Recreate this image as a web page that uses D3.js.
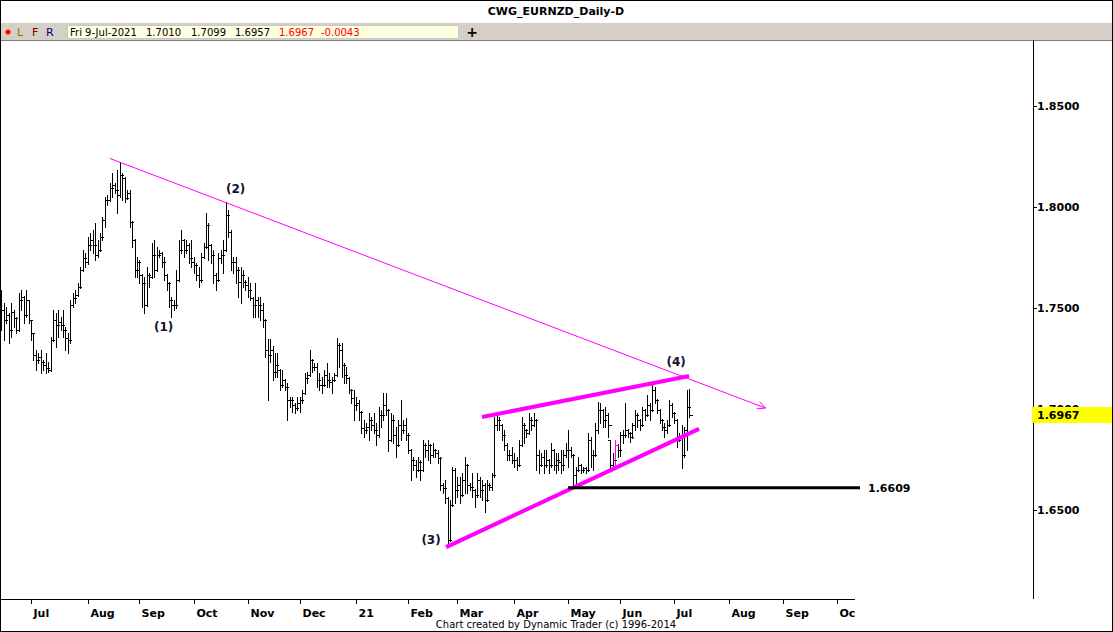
<!DOCTYPE html>
<html><head><meta charset="utf-8">
<script src="https://cdn.jsdelivr.net/npm/d3@7"></script>
<style>body{margin:0;background:#fff}svg{display:block}</style>
</head><body>
<svg id="c" width="1113" height="632"></svg>
<script>
// ---------------- DATA ----------------
const startDate = "2020-06-15";   // first daily bar (weekdays only)
const opens = [
1.7538,1.7489,1.7439,1.7464,1.7390,1.7479,1.7449,1.7390,1.7538,1.7553,
1.7464,1.7538,1.7439,1.7375,1.7266,1.7241,1.7256,1.7231,1.7216,1.7202,
1.7192,1.7340,1.7439,1.7415,1.7429,1.7415,1.7390,1.7350,1.7340,1.7513,
1.7548,1.7563,1.7603,1.7687,1.7746,1.7726,1.7810,1.7835,1.7810,1.7761,
1.7786,1.7850,1.7934,1.8033,1.8033,1.8093,1.8107,1.8083,1.8058,1.8157,
1.8142,1.8043,1.8068,1.7924,1.7835,1.7687,1.7726,1.7662,1.7622,1.7513,
1.7662,1.7652,1.7761,1.7687,1.7761,1.7771,1.7726,1.7662,1.7622,1.7538,
1.7513,1.7513,1.7637,1.7786,1.7835,1.7786,1.7810,1.7746,1.7726,1.7711,
1.7662,1.7637,1.7751,1.7801,1.7909,1.7810,1.7761,1.7662,1.7637,1.7746,
1.7761,1.7786,1.7959,1.7875,1.7726,1.7726,1.7687,1.7627,1.7662,1.7627,
1.7613,1.7588,1.7548,1.7513,1.7538,1.7513,1.7489,1.7439,1.7291,1.7266,
1.7291,1.7182,1.7216,1.7192,1.7117,1.7142,1.7108,1.7043,1.7043,1.7018,
1.7003,1.7028,1.7043,1.7078,1.7152,1.7167,1.7241,1.7206,1.7206,1.7142,
1.7117,1.7117,1.7167,1.7142,1.7132,1.7142,1.7167,1.7316,1.7291,1.7216,
1.7167,1.7152,1.7093,1.7053,1.7018,1.7028,1.6984,1.6905,1.6895,1.6910,
1.6944,1.6919,1.6895,1.6870,1.6969,1.6969,1.7018,1.6994,1.6845,1.6944,
1.6870,1.6820,1.6919,1.6895,1.6919,1.6870,1.6796,1.6746,1.6722,1.6697,
1.6736,1.6697,1.6820,1.6796,1.6820,1.6771,1.6796,1.6781,1.6756,1.6622,
1.6608,1.6558,1.6350,1.6523,1.6697,1.6598,1.6622,1.6573,1.6647,1.6722,
1.6622,1.6613,1.6598,1.6573,1.6647,1.6598,1.6622,1.6548,1.6622,1.6613,
1.6672,1.6919,1.6944,1.6919,1.6870,1.6820,1.6771,1.6771,1.6746,1.6746,
1.6722,1.6820,1.6919,1.6895,1.6880,1.6944,1.6919,1.6944,1.6771,1.6722,
1.6761,1.6722,1.6746,1.6722,1.6796,1.6722,1.6746,1.6736,1.6722,1.6771,
1.6796,1.6796,1.6771,1.6672,1.6697,1.6722,1.6697,1.6707,1.6697,1.6845,
1.6771,1.6771,1.6895,1.6994,1.6994,1.6944,1.6969,1.6845,1.6722,1.6746,
1.6820,1.6796,1.6870,1.6870,1.6895,1.6880,1.6860,1.6919,1.6969,1.6944,
1.6919,1.6994,1.6969,1.7018,1.6994,1.7093,1.7043,1.6994,1.6944,1.6910,
1.6895,1.6919,1.7018,1.6979,1.6944,1.6845,1.6860,1.6771,1.6895,1.7010];
const highs = [
1.7588,1.7523,1.7503,1.7474,1.7523,1.7489,1.7454,1.7573,1.7588,1.7558,
1.7588,1.7538,1.7439,1.7375,1.7291,1.7276,1.7291,1.7241,1.7276,1.7231,
1.7355,1.7489,1.7474,1.7489,1.7454,1.7489,1.7405,1.7375,1.7538,1.7573,
1.7588,1.7622,1.7701,1.7786,1.7771,1.7850,1.7870,1.7885,1.7919,1.7835,
1.7870,1.7949,1.8048,1.8058,1.8117,1.8167,1.8117,1.8182,1.8221,1.8167,
1.8147,1.8083,1.8083,1.7929,1.7840,1.7751,1.7736,1.7667,1.7652,1.7701,
1.7672,1.7820,1.7835,1.7801,1.7786,1.7776,1.7751,1.7667,1.7627,1.7553,
1.7538,1.7687,1.7835,1.7885,1.7840,1.7835,1.7820,1.7835,1.7751,1.7721,
1.7701,1.7771,1.7820,1.7968,1.7919,1.7815,1.7786,1.7672,1.7771,1.7786,
1.7835,1.8023,1.7984,1.7885,1.7751,1.7751,1.7701,1.7701,1.7687,1.7637,
1.7652,1.7622,1.7553,1.7622,1.7553,1.7553,1.7523,1.7444,1.7345,1.7345,
1.7310,1.7276,1.7276,1.7197,1.7192,1.7147,1.7127,1.7058,1.7058,1.7028,
1.7058,1.7058,1.7093,1.7177,1.7182,1.7291,1.7246,1.7226,1.7226,1.7177,
1.7157,1.7192,1.7226,1.7177,1.7157,1.7177,1.7350,1.7325,1.7325,1.7226,
1.7206,1.7157,1.7098,1.7093,1.7058,1.7043,1.6989,1.6944,1.6929,1.6979,
1.6959,1.6979,1.6929,1.7008,1.6994,1.7078,1.7078,1.6999,1.6979,1.6969,
1.6910,1.6944,1.7043,1.6944,1.6954,1.6880,1.6801,1.6761,1.6746,1.6761,
1.6746,1.6845,1.6830,1.6845,1.6825,1.6830,1.6801,1.6796,1.6761,1.6632,
1.6647,1.6563,1.6548,1.6711,1.6707,1.6662,1.6662,1.6682,1.6761,1.6727,
1.6632,1.6682,1.6603,1.6682,1.6662,1.6647,1.6632,1.6647,1.6632,1.6682,
1.6959,1.6979,1.6959,1.6924,1.6895,1.6830,1.6796,1.6811,1.6781,1.6761,
1.6845,1.6959,1.6929,1.6900,1.6979,1.6959,1.6979,1.6949,1.6796,1.6781,
1.6796,1.6796,1.6751,1.6830,1.6801,1.6781,1.6781,1.6796,1.6796,1.6830,
1.6895,1.6811,1.6776,1.6711,1.6761,1.6727,1.6711,1.6711,1.6880,1.6860,
1.6796,1.6929,1.7033,1.7028,1.6999,1.7008,1.6979,1.6845,1.6781,1.6845,
1.6825,1.6885,1.6895,1.7028,1.6900,1.6885,1.6929,1.6994,1.6979,1.6949,
1.7008,1.6999,1.7068,1.7028,1.7127,1.7108,1.7048,1.6999,1.6949,1.6929,
1.6944,1.7043,1.7028,1.6984,1.6949,1.6880,1.6919,1.6910,1.7093,1.7099];
const lows = [
1.7390,1.7340,1.7424,1.7325,1.7355,1.7405,1.7375,1.7385,1.7489,1.7424,
1.7454,1.7424,1.7340,1.7241,1.7192,1.7226,1.7177,1.7192,1.7177,1.7182,
1.7187,1.7335,1.7305,1.7355,1.7390,1.7355,1.7291,1.7276,1.7325,1.7503,
1.7523,1.7558,1.7598,1.7682,1.7701,1.7716,1.7786,1.7771,1.7736,1.7751,
1.7781,1.7835,1.7899,1.8008,1.8028,1.8048,1.8068,1.7969,1.8048,1.8033,
1.8023,1.8038,1.7899,1.7801,1.7652,1.7652,1.7622,1.7503,1.7474,1.7508,
1.7603,1.7647,1.7652,1.7682,1.7751,1.7701,1.7637,1.7588,1.7503,1.7454,
1.7489,1.7500,1.7632,1.7771,1.7751,1.7771,1.7721,1.7701,1.7672,1.7637,
1.7603,1.7627,1.7746,1.7796,1.7736,1.7721,1.7622,1.7588,1.7632,1.7721,
1.7672,1.7781,1.7850,1.7687,1.7672,1.7622,1.7553,1.7523,1.7603,1.7588,
1.7553,1.7538,1.7454,1.7454,1.7454,1.7439,1.7405,1.7256,1.7043,1.7231,
1.7142,1.7157,1.7157,1.7093,1.7108,1.7093,1.6944,1.7008,1.6984,1.6979,
1.6994,1.6984,1.7028,1.7073,1.7127,1.7162,1.7182,1.7192,1.7108,1.7093,
1.7078,1.7112,1.7108,1.7108,1.7078,1.7137,1.7162,1.7206,1.7157,1.7127,
1.7127,1.7078,1.7028,1.6944,1.6994,1.6944,1.6880,1.6860,1.6880,1.6845,
1.6895,1.6880,1.6820,1.6860,1.6910,1.6944,1.6969,1.6791,1.6840,1.6830,
1.6761,1.6815,1.6845,1.6880,1.6845,1.6781,1.6647,1.6697,1.6662,1.6692,
1.6647,1.6692,1.6761,1.6746,1.6731,1.6761,1.6761,1.6731,1.6598,1.6583,
1.6533,1.6325,1.6345,1.6518,1.6533,1.6563,1.6533,1.6568,1.6583,1.6583,
1.6598,1.6563,1.6513,1.6563,1.6563,1.6548,1.6489,1.6543,1.6598,1.6598,
1.6662,1.6895,1.6895,1.6845,1.6796,1.6746,1.6746,1.6731,1.6711,1.6697,
1.6717,1.6815,1.6830,1.6860,1.6875,1.6895,1.6914,1.6697,1.6682,1.6717,
1.6682,1.6711,1.6682,1.6711,1.6697,1.6682,1.6697,1.6682,1.6697,1.6761,
1.6711,1.6761,1.6609,1.6632,1.6692,1.6682,1.6687,1.6682,1.6692,1.6711,
1.6697,1.6766,1.6880,1.6929,1.6910,1.6910,1.6860,1.6697,1.6697,1.6707,
1.6761,1.6766,1.6830,1.6860,1.6860,1.6835,1.6855,1.6895,1.6910,1.6895,
1.6914,1.6944,1.6964,1.6944,1.6989,1.7028,1.6979,1.6929,1.6895,1.6860,
1.6880,1.6914,1.6959,1.6929,1.6811,1.6840,1.6707,1.6761,1.6796,1.6957];
const closes = [
1.7489,1.7439,1.7464,1.7390,1.7479,1.7449,1.7390,1.7538,1.7553,1.7464,
1.7538,1.7439,1.7375,1.7266,1.7241,1.7256,1.7231,1.7216,1.7202,1.7192,
1.7340,1.7439,1.7415,1.7429,1.7415,1.7390,1.7350,1.7340,1.7513,1.7548,
1.7563,1.7603,1.7687,1.7746,1.7726,1.7810,1.7835,1.7810,1.7761,1.7786,
1.7850,1.7934,1.8033,1.8033,1.8093,1.8107,1.8083,1.8058,1.8157,1.8142,
1.8043,1.8068,1.7924,1.7835,1.7687,1.7726,1.7662,1.7622,1.7513,1.7662,
1.7652,1.7761,1.7687,1.7761,1.7771,1.7726,1.7662,1.7622,1.7538,1.7513,
1.7513,1.7637,1.7786,1.7835,1.7786,1.7810,1.7746,1.7726,1.7711,1.7662,
1.7637,1.7751,1.7801,1.7909,1.7810,1.7761,1.7662,1.7637,1.7746,1.7761,
1.7786,1.7959,1.7875,1.7726,1.7726,1.7687,1.7627,1.7662,1.7627,1.7613,
1.7588,1.7548,1.7513,1.7538,1.7513,1.7489,1.7439,1.7291,1.7266,1.7291,
1.7182,1.7216,1.7192,1.7117,1.7142,1.7108,1.7043,1.7043,1.7018,1.7003,
1.7028,1.7043,1.7078,1.7152,1.7167,1.7241,1.7206,1.7206,1.7142,1.7117,
1.7117,1.7167,1.7142,1.7132,1.7142,1.7167,1.7316,1.7291,1.7216,1.7167,
1.7152,1.7093,1.7053,1.7018,1.7028,1.6984,1.6905,1.6895,1.6910,1.6944,
1.6919,1.6895,1.6870,1.6969,1.6969,1.7018,1.6994,1.6845,1.6944,1.6870,
1.6820,1.6919,1.6895,1.6919,1.6870,1.6796,1.6746,1.6722,1.6697,1.6736,
1.6697,1.6820,1.6796,1.6820,1.6771,1.6796,1.6781,1.6756,1.6622,1.6608,
1.6558,1.6350,1.6523,1.6697,1.6598,1.6622,1.6573,1.6647,1.6722,1.6622,
1.6613,1.6598,1.6573,1.6647,1.6598,1.6622,1.6548,1.6622,1.6613,1.6672,
1.6919,1.6944,1.6919,1.6870,1.6820,1.6771,1.6771,1.6746,1.6746,1.6722,
1.6820,1.6919,1.6895,1.6880,1.6944,1.6919,1.6944,1.6771,1.6722,1.6761,
1.6722,1.6746,1.6722,1.6796,1.6722,1.6746,1.6736,1.6722,1.6771,1.6796,
1.6796,1.6771,1.6672,1.6697,1.6722,1.6697,1.6707,1.6697,1.6845,1.6771,
1.6771,1.6895,1.6994,1.6994,1.6944,1.6969,1.6919,1.6722,1.6746,1.6820,
1.6796,1.6870,1.6870,1.6895,1.6880,1.6860,1.6919,1.6969,1.6944,1.6919,
1.6994,1.6969,1.7018,1.6994,1.7093,1.7043,1.6994,1.6944,1.6910,1.6895,
1.6919,1.7018,1.6979,1.6944,1.6845,1.6860,1.6771,1.6895,1.7010,1.6967];

const monthTickDates  = ["2020-07-01","2020-08-03","2020-09-01","2020-10-01","2020-11-02","2020-12-01","2021-01-01","2021-02-01","2021-03-01","2021-04-01","2021-05-03","2021-06-01","2021-07-01","2021-08-02","2021-09-01","2021-10-01"];
const monthTickLabels = ["Jul","Aug","Sep","Oct","Nov","Dec","21","Feb","Mar","Apr","May","Jun","Jul","Aug","Sep","Oct"];
const priceTicks = [1.65, 1.70, 1.75, 1.80, 1.85];
const lastPrice = 1.6967;
const supportLevel = 1.6609;
const highlightBar = 249;                       // magenta bar
const trendLine  = [[44, 1.8239], [310, 1.7003]];   // [bar index, price]
const upperWedge = [[195, 1.6959], [279, 1.7162]];
const lowerWedge = [[180.4, 1.6315], [283, 1.6900]];
const supportSpan = [229.9, 348.3];
const waveLabels = ["(1)", "(2)", "(3)", "(4)"];
const waveAt     = [[65.8, 1.7404], [95.0, 1.8088], [174.3, 1.6350], [273.7, 1.7231]];
const headerInfo = ["Fri 9-Jul-2021", "1.7010", "1.7099", "1.6957", "1.6967", "-0.0043"];

// ---------------- CHART ----------------
const n = closes.length;
if (opens.length!==n || highs.length!==n || lows.length!==n) throw new Error("length mismatch "+[opens.length,highs.length,lows.length,n]);

const W = 1113, H = 632;
const plot = {left: 1, right: 1033, top: 41, bottom: 599};
const svg = d3.select("#c");
const SANS = "'DejaVu Sans', Verdana, sans-serif";

// weekday calendar
const parse = d3.utcParse("%Y-%m-%d");
const t0 = parse(startDate);
function weekdayIndex(ds) {
  const d = parse(ds); let c = 0;
  for (let t = new Date(t0); t < d; t = d3.utcDay.offset(t, 1)) { const w = t.getUTCDay(); if (w !== 0 && w !== 6) c++; }
  return c;
}

const x = d3.scaleLinear().domain([0, 418.5]).range([1.4, 1033]);
const y = d3.scaleLinear().domain([1.65, 1.85]).range([509.7, 105.7]);

svg.append("rect").attr("width", W).attr("height", H).attr("fill", "#fff");

const defs = svg.append("defs");
defs.append("clipPath").attr("id", "plotClip").append("rect")
  .attr("x", plot.left).attr("y", plot.top).attr("width", plot.right - plot.left).attr("height", plot.bottom - plot.top);
defs.append("clipPath").attr("id", "xClip").append("rect")
  .attr("x", 0).attr("y", 595).attr("width", 855).attr("height", 30);

// header
svg.append("text").attr("x", 556).attr("y", 15).attr("text-anchor", "middle")
  .attr("font-family", SANS).attr("font-weight", "bold").attr("font-size", 11).attr("fill", "#000")
  .text("CWG_EURNZD_Daily-D");
svg.append("rect").attr("x", 1).attr("y", 23).attr("width", W - 2).attr("height", 17).attr("fill", "#d4d0c8");
svg.append("line").attr("x1", 0).attr("x2", W).attr("y1", 40.5).attr("y2", 40.5).attr("stroke", "#808080");
svg.append("circle").attr("cx", 8).attr("cy", 32).attr("r", 2.5).attr("fill", "#ff0000");
[["L", 17, "#808000"], ["F", 32, "#800000"], ["R", 46, "#000080"]].forEach(([t, px, c]) =>
  svg.append("text").attr("x", px).attr("y", 36).attr("font-family", SANS).attr("font-size", 11).attr("fill", c).text(t));
svg.append("rect").attr("x", 67.5).attr("y", 25.5).attr("width", 391).attr("height", 13)
  .attr("fill", "#ffffe1").attr("stroke", "#c8c8c8");
const infoX = [70, 146, 191, 235, 279, 321];
headerInfo.forEach((t, k) =>
  svg.append("text").attr("x", infoX[k]).attr("y", 36).attr("font-family", SANS).attr("font-size", 10)
    .attr("fill", k >= 4 ? "#ff0000" : "#000").text(t));
svg.append("text").attr("x", 472).attr("y", 37).attr("text-anchor", "middle").attr("font-family", SANS)
  .attr("font-weight", "bold").attr("font-size", 14).text("+");

// bars
const barG = svg.append("g").attr("clip-path", "url(#plotClip)");
const barData = d3.range(n).map(i => ({i, o: opens[i], h: highs[i], l: lows[i], c: closes[i]}));
const bg = barData.map(d => {
  const cx = Math.round(x(d.i)), yh = Math.round(y(d.h)), yl = Math.round(y(d.l));
  return {cx, yh, yl, yo: Math.round(y(d.o)), yc: Math.round(y(d.c)), col: d.i === highlightBar ? "#ff00ff" : "#000"};
});
barG.selectAll("rect.v").data(bg).join("rect").attr("class", "v")
  .attr("x", d => d.cx).attr("y", d => d.yh).attr("width", 1).attr("height", d => Math.max(1, d.yl - d.yh + 1)).attr("fill", d => d.col);
barG.selectAll("rect.o").data(bg).join("rect").attr("class", "o")
  .attr("x", d => d.cx - 2).attr("y", d => d.yo).attr("width", 2).attr("height", 1).attr("fill", d => d.col);
barG.selectAll("rect.c").data(bg).join("rect").attr("class", "c")
  .attr("x", d => d.cx + 1).attr("y", d => d.yc).attr("width", 3).attr("height", 1).attr("fill", d => d.col);

// annotation lines
const ann = svg.append("g").attr("clip-path", "url(#plotClip)");
function seg(pts, color, w) {
  ann.append("line").attr("x1", x(pts[0][0])).attr("y1", y(pts[0][1])).attr("x2", x(pts[1][0])).attr("y2", y(pts[1][1]))
    .attr("stroke", color).attr("stroke-width", w);
}
seg(trendLine, "#ff00ff", 1);
{ // arrow head
  const x1 = x(trendLine[0][0]), y1 = y(trendLine[0][1]), x2 = x(trendLine[1][0]), y2 = y(trendLine[1][1]);
  const a = Math.atan2(y2 - y1, x2 - x1), L = 9, s = 0.45;
  ann.append("path").attr("d", `M${x2 - L*Math.cos(a - s)},${y2 - L*Math.sin(a - s)}L${x2},${y2}L${x2 - L*Math.cos(a + s)},${y2 - L*Math.sin(a + s)}`)
    .attr("fill", "none").attr("stroke", "#ff00ff").attr("stroke-width", 1);
}
seg(upperWedge, "#ff00ff", 4);
seg(lowerWedge, "#ff00ff", 4);
seg([[supportSpan[0], supportLevel], [supportSpan[1], supportLevel]], "#000", 3);
svg.append("text").attr("x", 868).attr("y", y(supportLevel)).attr("dy", "0.36em")
  .attr("font-family", SANS).attr("font-weight", "bold").attr("font-size", 11).text(supportLevel.toFixed(4));

// wave labels
waveLabels.forEach((t, k) =>
  svg.append("text").attr("x", x(waveAt[k][0])).attr("y", y(waveAt[k][1])).attr("dy", "0.36em").attr("text-anchor", "middle")
    .attr("font-family", SANS).attr("font-weight", "bold").attr("font-size", 12).attr("fill", "#101030").text(t));

// right axis
svg.append("line").attr("x1", 1033.5).attr("x2", 1033.5).attr("y1", 40).attr("y2", 599).attr("stroke", "#000");
const yAxisG = svg.append("g");
priceTicks.forEach(p => {
  const yy = Math.round(y(p)) + 0.5;
  yAxisG.append("line").attr("x1", 1033).attr("x2", 1037).attr("y1", yy).attr("y2", yy).attr("stroke", "#000");
  yAxisG.append("text").attr("x", 1037).attr("y", yy).attr("dy", "0.36em").attr("font-family", SANS)
    .attr("font-weight", "bold").attr("font-size", 11).attr("fill", "#000").text(p.toFixed(4));
});
svg.append("rect").attr("x", 1032).attr("y", Math.round(y(lastPrice)) - 8).attr("width", 80).attr("height", 16).attr("fill", "#ffff00");
svg.append("text").attr("x", 1037).attr("y", Math.round(y(lastPrice))).attr("dy", "0.36em").attr("font-family", SANS)
  .attr("font-weight", "bold").attr("font-size", 11).text(lastPrice.toFixed(4));

// bottom axis
svg.append("line").attr("x1", 0).attr("x2", 855).attr("y1", 599.5).attr("y2", 599.5).attr("stroke", "#000");
const xg = svg.append("g").attr("clip-path", "url(#xClip)");
monthTickDates.forEach((ds, k) => {
  const xx = Math.round(x(weekdayIndex(ds))) + 0.5;
  xg.append("line").attr("x1", xx).attr("x2", xx).attr("y1", 599).attr("y2", 604).attr("stroke", "#000");
  xg.append("text").attr("x", xx + 2).attr("y", 617).attr("font-family", SANS).attr("font-weight", "bold")
    .attr("font-size", 11).attr("fill", "#000").text(monthTickLabels[k]);
});
svg.append("text").attr("x", 556).attr("y", 628).attr("text-anchor", "middle").attr("font-family", SANS)
  .attr("font-size", 10).attr("fill", "#000").text("Chart created by Dynamic Trader  (c) 1996-2014");

// frame
svg.append("rect").attr("x", 0.5).attr("y", 0.5).attr("width", W - 1).attr("height", H - 1)
  .attr("fill", "none").attr("stroke", "#000");
</script>
</body></html>
